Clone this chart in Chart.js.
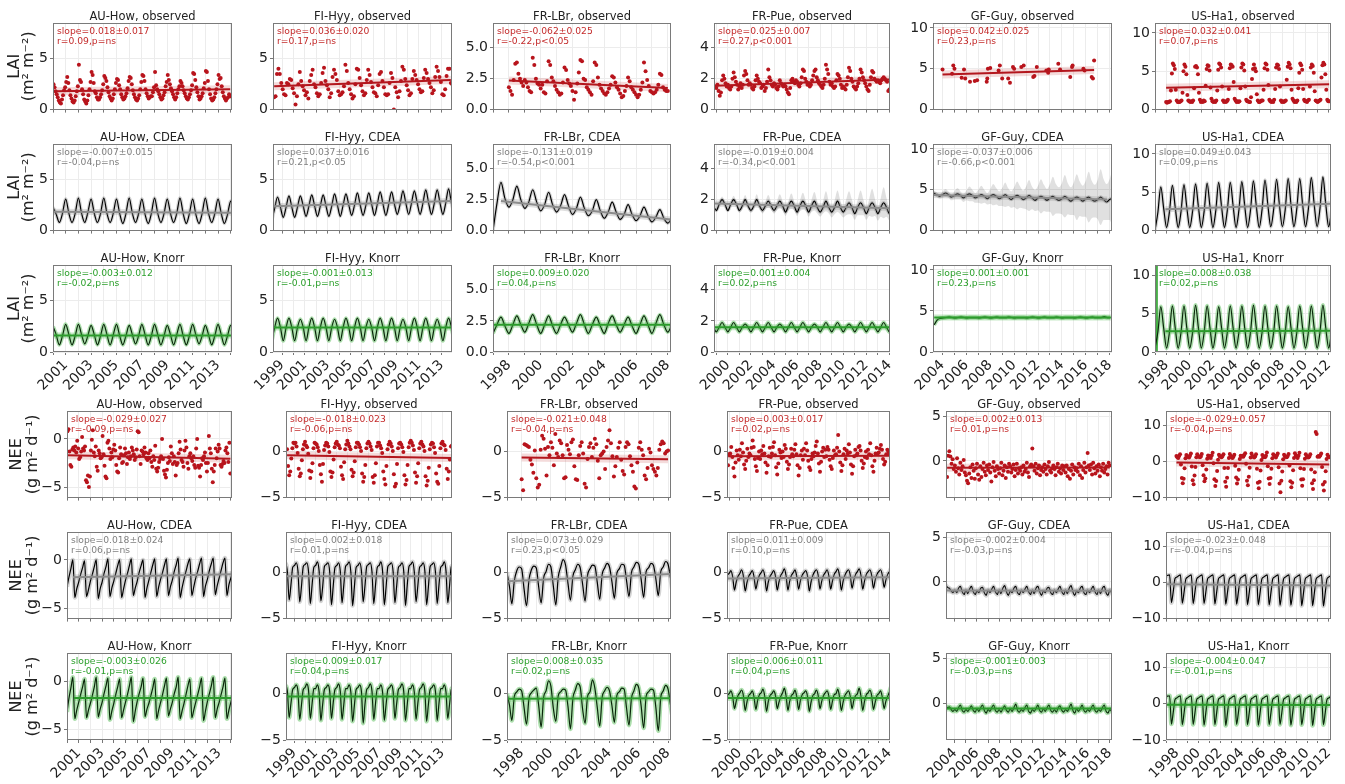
<!DOCTYPE html>
<html>
<head>
<meta charset="utf-8">
<script src="https://cdn.jsdelivr.net/npm/chart.js@4.4.0/dist/chart.umd.min.js"></script>
<style>
html, body { margin: 0; padding: 0; background: #fff; }
#fig { position: relative; width: 1345px; height: 784px; overflow: hidden; }
#fig canvas { position: absolute; }
</style>
</head>
<body>
<div id="fig"></div>
<script>
// ---- sites and axes ----
const sites = ['AU-How', 'FI-Hyy', 'FR-LBr', 'FR-Pue', 'GF-Guy', 'US-Ha1'];
const xMin = [2000.0, 1998.2, 1997.0, 1998.8, 2003.2, 1997.0];
const xMax = [2014.1, 2013.9, 2008.2, 2014.05, 2018.2, 2012.2];
const xLabelYears = [
  [2001, 2003, 2005, 2007, 2009, 2011, 2013],
  [1999, 2001, 2003, 2005, 2007, 2009, 2011, 2013],
  [1998, 2000, 2002, 2004, 2006, 2008],
  [2000, 2002, 2004, 2006, 2008, 2010, 2012, 2014],
  [2004, 2006, 2008, 2010, 2012, 2014, 2016, 2018],
  [1998, 2000, 2002, 2004, 2006, 2008, 2010, 2012]
];
const laiYMax = [8.5, 8.5, 7.0, 5.6, 10.6, 11.3];
const laiTicks = [[0, 5], [0, 5], [0, 2.5, 5], [0, 2, 4], [0, 5, 10], [0, 5, 10]];
const laiTickDecimals = [0, 0, 1, 0, 0, 0];
const neeYMin = [-6.1, -5, -5, -5, -4.1, -10];
const neeYMax = [2.9, 4.3, 4.4, 4.4, 5.6, 14];
const neeTicks = [[-5, 0], [-5, 0], [-5, 0], [-5, 0], [0, 5], [-10, 0, 10]];

// ---- LAI observed ----
const laiObsStart = [2000.04, 1998.3, 1998.0, 1998.9, null, 1997.96];
const laiObsStep = [1 / 12, 1 / 8, 0.1, 0.1, null, 1 / 12];
const laiObsAUHow = [
  2.5,2.2,1.8,1.5,1.2,0.9,0.7,0.6,1.0,1.4,1.9,2.2,
  2.7,3.2,2.6,1.9,1.4,1.1,0.8,0.7,0.9,1.3,1.8,2.3,
  4.4,2.9,2.7,2.0,1.5,1.0,0.8,0.6,0.9,1.4,2.0,2.7,
  3.7,3.4,2.6,1.8,1.6,1.2,1.0,1.0,1.2,1.5,1.9,2.5,
  3.3,3.1,2.8,2.2,1.7,1.3,1.1,0.9,1.1,1.5,2.0,2.6,
  3.0,2.9,2.4,2.0,1.5,1.2,1.0,1.1,1.3,1.6,2.1,2.8,
  3.2,3.1,2.5,1.9,1.5,1.2,1.0,0.9,1.1,1.4,2.0,2.7,
  3.4,3.3,2.8,2.0,1.6,1.3,1.1,1.2,1.3,1.3,1.7,2.2,
  3.7,2.4,2.0,1.8,1.5,1.2,1.0,1.1,1.4,1.7,2.3,2.7,
  3.4,2.9,2.5,2.1,1.8,1.5,1.2,1.0,1.2,1.6,2.0,2.3,
  2.8,2.6,2.3,1.9,1.6,1.3,1.1,1.0,1.2,1.5,1.9,2.4,
  3.6,3.5,2.9,2.2,1.7,1.3,1.0,1.1,1.3,1.6,2.1,2.6,
  3.8,3.7,2.8,2.0,1.5,1.1,0.9,1.0,1.2,1.6,2.0,2.5,
  3.4,3.0,3.1,2.3,1.7,1.3,1.1,0.9,1.1,1.2,1.5,1.3
];
const laiObsFIHyy = [
  1.2,1.3,3.5,4.0,3.5,2.6,2.0,1.5,
  1.4,2.6,2.5,3.0,2.9,2.1,1.6,0.5,
  1.3,2.5,3.7,2.8,2.3,1.9,1.4,1.7,
  1.1,2.8,3.4,3.9,2.5,2.2,1.6,1.3,
  1.5,2.6,3.6,4.1,2.8,2.4,2.0,1.2,
  1.6,3.2,3.9,3.5,2.9,1.8,1.4,1.5,
  1.7,2.3,4.4,3.8,2.6,2.0,1.5,1.1,
  1.3,2.5,4.0,3.9,3.1,2.4,1.8,1.4,
  1.6,2.9,3.9,3.4,2.7,2.2,1.7,1.6,
  1.3,2.4,3.5,3.7,2.8,2.2,1.5,1.4,
  1.5,2.6,3.6,3.1,0.0,2.2,1.7,1.2,
  1.8,2.8,4.2,3.9,3.0,2.4,1.9,1.4,
  1.6,3.0,3.8,3.4,2.9,2.5,2.0,1.7,
  1.8,3.1,3.9,3.6,3.0,2.6,2.2,1.6,
  1.9,3.2,4.2,3.8,3.2,2.7,1.5,1.4,
  2.0,3.3,4.0,4.0,2.6,2.5
];
const laiObsFRLBr = [
  1.8,1.5,1.2,2.4,3.7,3.8,2.9,2.5,2.2,1.9,
  2.4,2.2,1.8,1.5,1.4,4.2,3.6,2.5,2.1,2.0,
  1.7,2.0,1.4,1.3,2.3,3.9,3.6,2.6,2.3,1.9,
  1.6,1.4,1.2,1.3,2.2,3.4,3.2,2.4,2.1,1.9,
  1.5,0.8,1.4,2.1,3.0,4.0,3.9,2.5,2.4,1.8,
  1.6,1.4,1.2,2.3,3.8,3.6,2.6,2.0,1.7,1.5,
  1.3,1.2,1.4,1.7,2.0,2.7,2.6,2.2,1.8,1.6,
  1.3,1.0,1.1,1.5,1.9,2.6,2.3,1.8,1.6,1.4,
  1.2,1.0,1.2,1.6,2.2,3.8,3.1,2.4,1.9,1.5,
  1.4,1.3,1.4,1.6,2.0,2.9,2.8,1.8,1.6,1.5,
  1.5
];
const laiObsFRPue = [
  1.5,
  1.4,1.6,1.2,0.9,1.1,1.9,2.2,2.0,1.7,1.5,
  1.6,1.4,1.3,1.5,2.0,2.4,2.1,1.8,1.6,1.3,
  1.5,1.7,1.4,1.6,2.2,2.5,2.3,1.9,1.6,1.7,
  1.6,1.4,1.3,1.5,1.9,2.2,2.0,1.8,1.7,1.4,
  1.5,1.6,1.2,1.4,1.8,2.6,2.1,1.9,1.6,1.5,
  1.7,1.6,1.4,1.3,1.5,1.9,1.7,1.6,1.5,1.6,
  1.5,1.3,1.1,1.0,1.4,1.9,2.0,1.8,1.7,1.9,
  1.8,1.6,1.5,1.7,2.1,2.6,2.5,2.0,1.8,1.6,
  1.7,1.5,1.6,1.9,2.2,2.5,2.6,2.1,1.9,1.7,
  1.6,1.5,1.4,1.6,2.0,2.9,2.6,2.3,1.8,1.6,
  1.7,1.5,1.4,1.5,1.9,2.3,2.2,2.0,1.6,1.4,
  1.5,1.4,1.3,1.6,2.1,2.7,2.5,2.0,1.8,1.5,
  1.4,1.3,1.5,1.7,2.0,2.6,2.4,2.1,1.9,1.7,
  1.5,1.3,1.2,1.6,2.1,2.5,2.4,2.0,1.9,1.8,
  1.9,1.8,1.7,1.9,2.0,2.1,2.0,1.9,1.8,1.2,
  1.3
];
const laiObsGFGuyX = [2004.0,2004.8,2004.9,2005.0,2005.6,2005.8,2005.9,2006.3,2006.7,2006.9,2007.7,2007.75,2007.8,2008.0,2008.7,2008.8,2009.0,2009.5,2009.65,2009.9,2010.0,2010.6,2010.8,2011.6,2011.7,2011.9,2012.7,2012.85,2012.9,2013.7,2013.85,2014.7,2014.85,2014.9,2015.8,2015.9,2016.5,2016.6,2016.7];
const laiObsGFGuyY = [4.9,4.4,5.4,5.0,3.9,4.9,3.8,3.4,3.5,3.6,3.4,3.8,5.0,5.1,4.8,5.4,3.8,3.8,3.3,5.2,5.0,5.2,5.4,4.0,4.1,5.2,4.8,4.5,4.9,5.6,4.9,4.0,5.2,5.4,5.0,4.8,4.0,3.8,6.0];
const laiObsUSHa1 = [
  1.0,
  0.9,1.0,1.0,1.1,2.5,4.7,6.0,5.8,5.3,2.6,1.2,1.0,
  1.0,1.0,1.1,1.2,2.2,5.0,5.9,5.6,4.6,1.9,1.2,1.1,
  1.0,1.1,1.0,1.2,2.8,5.6,5.7,5.5,4.6,2.2,1.3,1.0,
  1.1,1.0,1.2,1.1,3.1,5.3,5.8,5.7,5.1,2.9,1.4,1.1,
  1.0,1.1,1.0,1.2,2.5,5.2,6.0,5.9,5.5,3.0,1.2,1.0,
  1.1,1.0,1.1,1.3,2.7,5.4,5.9,5.8,5.6,3.6,1.4,1.2,
  1.0,1.1,1.0,1.1,2.8,5.5,6.0,5.9,5.1,3.0,1.3,1.1,
  1.1,1.0,1.0,1.6,4.0,5.3,5.9,5.4,5.0,2.0,1.2,1.0,
  1.0,1.1,1.2,1.2,2.6,5.4,6.0,5.9,5.2,3.2,1.3,1.1,
  1.0,1.1,1.0,1.3,2.7,5.5,5.9,5.8,5.3,3.0,1.2,1.0,
  1.1,1.0,1.1,1.2,3.9,5.6,6.1,5.9,5.4,2.6,1.4,1.2,
  1.0,1.1,1.0,1.2,2.8,4.8,6.0,5.8,5.2,2.7,1.3,1.1,
  1.1,1.0,1.2,1.3,3.0,5.5,5.9,5.7,4.8,2.4,1.2,1.1,
  1.0,1.1,1.2,1.3,4.2,5.8,6.1,5.9,4.6,2.6,1.3,1.1,
  1.1
];

// ---- LAI models (quarterly) ----
const laiCdeaStart = [2000.0, 1998.1, 1997.0, 1998.75, 2003.25, 1997.0];
const laiKnorrStart = [2000.0, 1998.1, 1997.0, 1998.75, 2003.3, 1997.0];
const laiModelStep = 0.25;
const laiCdeaAUHow = [
  2.3,1.6,0.8,1.7, 3.1,1.7,0.8,1.7, 3.2,1.7,0.8,1.8, 3.1,1.7,0.8,1.7, 3.2,1.7,0.8,1.7,
  3.1,1.7,0.7,1.7, 3.2,1.7,0.8,1.7, 3.1,1.6,0.7,1.7, 3.2,1.7,0.8,1.7, 3.1,1.7,0.8,1.7,
  3.2,1.7,0.7,1.7, 3.1,1.6,0.7,1.7, 3.2,1.7,0.8,1.7, 3.1,1.7,0.7,1.6, 2.9,1.7
];
const laiCdeaFIHyy = [
  1.0,2.2,3.3,2.3, 1.3,2.3,3.4,2.3, 1.3,2.3,3.4,2.4, 1.4,2.4,3.5,2.4, 1.4,2.4,3.5,2.4,
  1.4,2.4,3.6,2.5, 1.4,2.5,3.6,2.5, 1.5,2.5,3.7,2.5, 1.5,2.5,3.7,2.6, 1.5,2.6,3.8,2.6,
  1.5,2.6,3.8,2.6, 1.6,2.6,3.9,2.7, 1.6,2.7,3.9,2.7, 1.6,2.7,4.0,2.7, 1.6,2.7,4.0,2.7,
  1.6,2.7,4.1,2.7, 1.6
];
const laiCdeaFRLBr = [
  0.0,2.2,3.9,2.6, 1.9,2.5,3.6,2.5, 1.8,2.3,3.3,2.3, 1.6,2.1,3.1,2.1, 1.5,2.0,2.9,2.0,
  1.3,1.8,2.7,1.8, 1.2,1.6,2.5,1.6, 1.0,1.5,2.3,1.5, 0.9,1.3,2.1,1.3, 0.8,1.2,1.9,1.2,
  0.7,1.1,1.7,1.0, 0.6,1.0
];
const laiCdeaFRPue = [
  1.6,
  1.3,1.7,2.0,1.7, 1.3,1.7,2.0,1.7, 1.3,1.6,2.0,1.6, 1.3,1.6,2.0,1.6, 1.3,1.6,1.9,1.6,
  1.3,1.6,1.9,1.6, 1.2,1.6,1.9,1.6, 1.2,1.6,1.9,1.6, 1.2,1.6,1.9,1.5, 1.2,1.5,1.9,1.5,
  1.2,1.5,1.9,1.5, 1.2,1.5,1.8,1.5, 1.1,1.5,1.8,1.5, 1.1,1.5,1.8,1.5, 1.1,1.5,1.8,1.5,
  1.1,1.4
];
const laiCdeaFRPueSpread = [
  0.15,
  0.1,0.15,0.2,0.15, 0.1,0.15,0.25,0.15, 0.15,0.2,0.3,0.2, 0.15,0.2,0.35,0.2, 0.2,0.25,0.4,0.25,
  0.2,0.3,0.45,0.3, 0.25,0.3,0.5,0.3, 0.25,0.35,0.55,0.35, 0.3,0.4,0.6,0.4, 0.3,0.4,0.65,0.4,
  0.35,0.45,0.7,0.45, 0.35,0.5,0.75,0.5, 0.4,0.5,0.8,0.5, 0.4,0.55,0.9,0.55, 0.45,0.6,1.0,0.6,
  0.45,0.6
];
const laiCdeaGFGuy = [
  4.6,4.4,4.2,
  4.4,4.6,4.4,4.1, 4.3,4.5,4.3,4.0, 4.3,4.5,4.3,4.0, 4.2,4.4,4.2,3.9, 4.2,4.4,4.2,3.9,
  4.1,4.4,4.1,3.8, 4.1,4.3,4.1,3.8, 4.0,4.3,4.0,3.7, 4.0,4.2,4.0,3.7, 4.0,4.2,3.9,3.7,
  3.9,4.2,3.9,3.6, 3.9,4.1,3.9,3.6, 3.9,4.1,3.8,3.6, 3.8,4.1,3.8,3.5,
  3.8,4.0
];
const laiCdeaGFGuySpread = [
  0.3,0.3,0.3,
  0.4,0.5,0.4,0.4, 0.5,0.7,0.5,0.5, 0.6,0.9,0.7,0.6, 0.8,1.1,0.8,0.7, 0.9,1.3,1.0,0.9,
  1.1,1.5,1.1,1.0, 1.2,1.7,1.3,1.1, 1.4,1.9,1.4,1.3, 1.5,2.1,1.6,1.4, 1.7,2.4,1.8,1.6,
  1.9,2.6,1.9,1.7, 2.0,2.8,2.1,1.9, 2.2,3.1,2.3,2.0, 2.4,3.4,2.5,2.2,
  2.5,3.6
];
const laiCdeaUSHa1 = [
  0.0,2.4,5.7,2.9, 0.4,2.5,5.9,3.0, 0.4,2.5,6.0,3.0, 0.4,2.6,6.1,3.1, 0.4,2.6,6.2,3.1,
  0.4,2.6,6.3,3.1, 0.4,2.7,6.3,3.2, 0.4,2.7,6.4,3.2, 0.4,2.7,6.5,3.2, 0.4,2.8,6.6,3.3,
  0.5,2.8,6.7,3.3, 0.5,2.8,6.8,3.3, 0.5,2.9,6.8,3.4, 0.5,2.9,6.9,3.4, 0.5,2.9,7.0,3.4,
  0.5,2.6
];
const laiKnorrAUHow = [
  2.5,1.7,0.7,1.6, 2.7,1.7,0.7,1.6, 2.7,1.7,0.8,1.6, 2.6,1.7,0.7,1.6, 2.7,1.7,0.7,1.7,
  2.7,1.6,0.7,1.6, 2.6,1.7,0.8,1.6, 2.7,1.7,0.7,1.6, 2.7,1.7,0.7,1.6, 2.6,1.7,0.7,1.7,
  2.7,1.6,0.7,1.6, 2.7,1.7,0.8,1.6, 2.6,1.7,0.7,1.6, 2.7,1.7,0.7,1.6, 2.6,1.7
];
const laiKnorrFIHyy = [
  1.1,2.4,3.3,2.4, 1.1,2.4,3.3,2.4, 1.1,2.4,3.2,2.4, 1.1,2.4,3.3,2.4, 1.1,2.4,3.3,2.4,
  1.1,2.4,3.2,2.4, 1.1,2.4,3.3,2.4, 1.1,2.4,3.3,2.4, 1.1,2.4,3.2,2.4, 1.1,2.4,3.3,2.4,
  1.1,2.4,3.3,2.4, 1.1,2.4,3.2,2.4, 1.1,2.4,3.3,2.4, 1.1,2.4,3.3,2.4, 1.1,2.4,3.2,2.4,
  1.1,2.4,3.3,2.4, 1.1
];
const laiKnorrFRLBr = [
  1.5,2.2,2.8,2.1, 1.5,2.2,2.9,2.2, 1.6,2.3,3.0,2.2, 1.5,2.2,2.9,2.1, 1.5,2.2,2.8,2.2,
  1.6,2.3,3.0,2.2, 1.5,2.2,2.8,2.1, 1.5,2.3,2.9,2.2, 1.6,2.2,2.8,2.1, 1.5,2.2,2.9,2.2,
  1.5,2.3,3.0,2.2, 1.6,2.2
];
const laiKnorrFRPue = [
  1.6,
  1.3,1.6,1.9,1.6, 1.3,1.6,1.9,1.6, 1.3,1.6,1.8,1.6, 1.3,1.6,1.9,1.6, 1.3,1.6,1.9,1.6,
  1.3,1.6,1.8,1.6, 1.3,1.6,1.9,1.6, 1.3,1.6,1.9,1.6, 1.3,1.6,1.8,1.6, 1.3,1.6,1.9,1.6,
  1.3,1.6,1.9,1.6, 1.3,1.6,1.8,1.6, 1.3,1.6,1.9,1.6, 1.3,1.6,1.9,1.6, 1.3,1.6,1.9,1.6,
  1.3,1.6
];
const laiKnorrGFGuy = [
  3.3,3.9,4.1,4.15,
  4.2,4.25,4.2,4.15, 4.2,4.25,4.2,4.15, 4.2,4.2,4.2,4.15, 4.2,4.25,4.2,4.15, 4.2,4.25,4.2,4.2,
  4.2,4.25,4.2,4.15, 4.2,4.2,4.2,4.15, 4.2,4.25,4.2,4.15, 4.2,4.25,4.2,4.2, 4.2,4.25,4.2,4.15,
  4.2,4.2,4.2,4.15, 4.2,4.25,4.2,4.15, 4.2,4.25,4.2,4.2, 4.2,4.3,4.2,4.2
];
const laiKnorrUSHa1 = [
  0.5,2.6,5.9,3.1, 0.5,2.6,6.0,3.1, 0.5,2.6,6.0,3.1, 0.5,2.6,6.1,3.1, 0.5,2.6,6.0,3.1,
  0.5,2.6,5.9,3.1, 0.5,2.6,6.0,3.1, 0.5,2.6,6.0,3.1, 0.5,2.6,6.1,3.1, 0.5,2.6,6.0,3.1,
  0.5,2.6,6.0,3.1, 0.5,2.6,5.9,3.1, 0.5,2.6,6.0,3.1, 0.5,2.6,6.0,3.1, 0.5,2.6,6.1,3.1,
  0.5,2.6
];
const laiKnorrUSHa1SpikeX = [1997.0, 1997.25];
const laiKnorrUSHa1SpikeTop = 12;

// ---- NEE observed ----
const neeObsStart = [2000.04, 1998.3, 1998.0, 1998.9, 2003.3, 1997.96];
const neeObsStep = [1 / 12, 0.1, 0.1, 0.1, 0.1, 1 / 12];
const neeObsAUHow = [
  0.8,1.0,-1.3,-2.7,-2.9,-1.1,-0.9,-1.2,-0.8,-1.4,-0.2,-1.0,
  -2.1,-1.9,-1.3,0.2,-1.0,-1.2,-0.8,-4.3,-4.5,-3.8,-5.0,-3.9,
  -1.2,-0.1,0.9,-1.4,-1.8,-0.8,-2.9,-3.3,-1.2,-1.5,-2.0,-1.9,
  0.3,-1.6,-2.8,-3.9,-4.1,-0.4,-0.2,-1.0,-2.1,-1.4,-1.9,-1.1,
  -0.6,-1.2,-2.7,-3.4,-3.5,-2.0,-0.9,-1.6,-2.5,-2.4,-1.7,-1.0,
  -1.5,-2.6,-1.9,-1.4,-2.1,-1.8,-0.9,-1.2,-1.6,-2.2,-1.9,-1.1,
  0.8,0.7,-1.8,-2.6,-1.2,-1.3,-1.6,-0.9,-1.4,-2.0,-2.2,-1.5,
  -2.0,-1.2,-2.4,-2.9,-1.8,-2.2,-0.7,-3.1,-3.4,-3.0,-2.4,-2.1,
  -1.8,0.0,-2.1,-3.3,-3.7,-4.0,-3.2,-2.5,-1.9,-2.3,-0.8,-1.5,
  -2.6,-1.8,-2.4,-3.8,-2.7,-2.5,-1.5,-0.3,-1.1,-2.2,-2.4,-2.9,
  -1.2,-0.2,-0.9,-2.5,-3.1,-1.8,-1.5,-2.0,-2.3,-1.8,-2.7,-3.0,
  -1.0,0.0,-2.8,-3.0,-3.9,-2.7,-2.0,-2.2,-1.8,-1.4,-2.5,-3.4,
  -2.5,0.3,-1.0,-1.5,-3.1,-4.5,-3.4,-2.7,-1.0,-2.0,-1.3,-0.6,
  -1.0,-2.7,-2.9,-2.6,-2.3,-2.5,-1.2,-0.9,-1.5,-2.4,-0.4,-3.6
];
const neeObsFIHyy = [
  0.2,-1.6,-2.6,-2.2,-0.8,0.3,0.9,
  0.8,0.9,0.5,-0.2,-1.9,-2.7,-2.4,-1.0,0.2,0.7,
  1.0,0.6,0.4,-0.3,-2.1,-2.9,-2.2,-1.3,0.3,0.9,
  0.8,0.7,0.4,0.0,-1.5,-2.5,-3.3,-1.4,0.1,0.6,
  0.9,0.8,0.5,-0.1,-2.2,-2.8,-2.3,-0.9,0.4,0.8,
  1.0,0.7,0.6,0.3,-1.7,-2.6,-3.0,-1.2,0.2,0.7,
  1.1,0.8,0.5,0.2,-2.0,-2.7,-2.3,-1.1,0.4,0.9,
  0.9,0.7,0.4,0.0,-2.4,-3.3,-2.8,-1.5,0.3,0.8,
  1.0,0.8,0.5,0.1,-2.8,-3.4,-2.6,-1.3,0.5,0.9,
  0.9,0.6,0.3,-0.2,-2.2,-3.0,-3.6,-1.6,0.2,0.7,
  1.0,0.8,0.5,0.0,-2.5,-3.8,-3.5,-1.4,0.3,0.8,
  0.9,0.7,0.4,-0.1,-2.6,-3.6,-3.1,-1.5,0.4,0.9,
  1.1,0.9,0.6,0.1,-2.3,-3.4,-2.7,-1.3,0.3,0.8,
  1.0,0.7,0.5,0.0,-2.7,-3.7,-3.2,-1.8,0.2,0.7,
  0.9,0.8,0.4,-0.2,-2.4,-3.3,-3.5,-1.6,0.3,0.8,
  1.0,0.7,0.6,0.1,-1.9,-3.0,-2.2,-0.9,0.5,0.6
];
const neeObsFRLBr = [
  -3.0,-4.2,0.8,0.7,0.6,0.5,-0.9,-1.4,-2.3,0.1,
  -2.9,-3.9,-3.6,0.2,1.7,1.4,0.3,-2.6,0.5,-0.4,
  1.0,0.4,-1.5,1.9,-0.2,-0.6,1.2,0.9,-0.4,-2.9,
  -2.8,0.7,0.2,-0.3,1.0,1.3,-1.6,-3.0,-3.1,-0.4,
  0.6,1.0,-0.2,-3.5,-3.9,-0.8,0.5,0.9,-0.6,0.4,
  1.4,0.8,-1.0,-2.9,-0.4,-0.2,0.0,-1.9,0.5,1.2,
  2.3,0.9,-0.5,-2.7,-1.6,-0.6,0.4,1.0,-0.9,-2.1,
  -2.5,0.5,1.0,0.8,-0.5,-1.5,-2.2,-3.8,-4.0,-1.2,
  0.4,1.0,0.2,-0.4,-2.6,-3.0,-1.8,0.3,-0.1,-1.5,
  -1.9,-2.2,-2.6,-1.8,0.2,0.8,1.1,0.9,-0.2,0.0,
  0.1
];
const neeObsFRPue = [
  -1.5,
  -0.3,-0.2,0.5,-0.6,-1.8,-2.7,-1.2,0.1,-0.4,-0.9,
  0.2,-0.5,0.9,-0.1,-1.4,-1.9,-1.0,0.3,-0.6,-0.2,
  -0.4,0.4,1.2,0.5,-0.8,-1.6,-2.1,-0.7,0.0,-0.8,
  0.1,-0.3,0.6,-0.2,-1.2,-2.3,-1.5,-0.5,0.4,-0.6,
  -0.2,0.5,1.0,-0.4,-1.7,-2.5,-1.3,0.2,-0.1,-0.7,
  0.0,-0.6,0.7,0.3,-1.1,-1.9,-1.4,-0.6,0.3,-0.3,
  -0.5,0.2,0.8,-0.3,-1.5,-2.6,-1.8,-0.4,0.1,-0.9,
  0.3,-0.4,0.9,0.1,-1.0,-1.7,-2.0,-0.8,-0.2,-0.5,
  -0.1,0.6,1.1,-0.2,-1.3,-2.2,-1.1,0.0,0.4,-0.6,
  0.2,-0.5,0.5,0.2,-0.9,-1.6,-1.9,-0.7,0.1,-0.4,
  -0.3,0.4,1.8,0.0,-1.2,-2.1,-1.5,-0.3,0.3,-0.8,
  0.1,-0.2,0.8,-0.1,-1.4,-2.4,-1.6,-0.5,0.2,-0.4,
  -0.2,0.5,0.6,0.1,-1.0,-1.8,-1.3,-0.6,0.0,-0.7,
  0.2,-0.3,0.9,-0.4,-1.6,-2.2,-1.0,-0.2,0.4,-0.2,
  -0.1,0.3,0.7,0.2,-0.8,-1.4,-1.1,-0.3,0.2,0.0,
  -0.2
];
const neeObsGFGuy = [
  -1.8,0.6,1.1,0.5,-0.3,0.2,-0.9,
  -0.5,-1.2,0.3,-0.8,-1.5,-0.2,-1.0,-0.6,0.1,-1.3,
  -1.6,-2.2,-2.5,-1.4,-0.7,-1.9,-0.4,-1.1,-2.0,-0.8,
  -0.3,-1.5,-2.1,-0.6,-1.8,-0.9,-0.2,-1.2,-1.6,-0.5,
  -1.0,-0.4,-1.3,-2.3,-0.7,-0.1,-1.1,-1.7,-0.6,-0.9,
  -1.4,-0.8,-0.2,-1.6,-1.1,-0.5,-1.9,-0.7,-1.2,-0.3,
  -0.6,-1.3,-0.9,-0.4,-1.7,-1.0,-0.3,-1.4,-0.8,-1.1,
  -0.7,-1.5,-0.5,-1.2,-0.9,-0.2,-1.3,-1.8,-0.6,-0.4,
  1.4,-0.6,-1.1,-0.3,-1.4,-0.8,-0.5,-1.6,-1.0,-0.7,
  -1.2,-0.4,-0.9,-1.5,-0.6,-0.1,-1.1,-1.3,-0.8,-0.5,
  -0.9,-1.6,-0.7,-0.3,-1.2,-0.8,-1.4,-0.5,-1.0,-0.6,
  -1.3,-0.5,-1.7,-0.9,-2.0,-1.1,-0.4,-1.5,-0.7,-1.0,
  -0.8,-1.2,-0.3,-1.6,-0.6,-1.9,-1.0,-0.2,-1.3,-0.7,
  0.9,-0.5,-1.0,-0.4,-1.5,-0.2,-0.8,-1.4,-0.6,-1.1,
  -0.4,-1.7,-0.7,-1.1,-0.3,-1.3,-0.9,-0.6,-1.5,-0.2,
  -0.5
];
const neeObsUSHa1 = [
  1.5,
  1.2,1.0,1.5,2.0,-0.8,-4.6,-6.0,-4.8,-1.9,0.9,1.8,1.3,
  1.4,1.1,1.6,2.2,-1.4,-5.2,-6.3,-3.9,-1.5,1.2,2.0,1.5,
  1.3,1.2,1.4,2.1,-1.0,-3.8,-5.5,-4.7,-2.2,0.8,1.7,1.1,
  1.5,1.0,1.7,2.4,-0.5,-4.9,-6.8,-5.4,-2.6,0.5,1.9,1.4,
  1.4,1.2,1.5,2.0,-1.8,-5.6,-7.0,-4.5,-1.8,1.0,2.1,1.6,
  1.2,1.0,1.3,1.9,-1.2,-4.4,-6.1,-5.0,-2.3,0.7,1.6,1.3,
  1.6,1.3,1.8,2.3,-0.6,-5.3,-6.6,-4.2,-1.7,1.1,2.2,1.5,
  1.3,1.1,1.4,2.0,-2.0,-5.9,-7.4,-5.6,-2.5,0.4,1.8,1.2,
  1.4,1.2,1.6,2.5,-1.3,-4.7,-6.2,-4.6,-2.0,0.9,2.0,1.6,
  1.5,1.1,1.7,2.2,-1.6,-6.1,-8.5,-5.3,-2.8,0.6,1.9,1.4,
  1.3,1.2,1.5,2.1,-1.1,-5.5,-7.1,-5.9,-2.4,1.0,2.3,1.7,
  1.4,1.0,1.6,2.4,-1.9,-5.0,-6.7,-4.9,-2.1,0.8,2.0,1.5,
  1.2,1.1,1.4,2.0,-2.2,-6.0,-7.6,-5.2,-3.0,8.2,7.6,1.3,
  1.5,1.3,1.7,2.2,-1.5,-6.4,-8.0,-5.7,-2.7,0.7,1.9,1.4,
  1.2
];

// ---- NEE models (every two months) ----
const neeModelStart = [2000.0, 1998.0, 1997.0, 1998 + 4 / 6, 2003 + 1 / 6, 1997.0];
const neeModelStep = 1 / 6;
const neeCdeaAUHow = [
  -2.8,-1.8,-0.9,0.0,-3.9,-3.0, -2.3,-1.5,-0.8,-0.1,-3.8,-3.1, -2.2,-1.5,-0.7,0.0,-4.0,-3.0,
  -2.3,-1.4,-0.7,0.1,-3.8,-2.9, -2.2,-1.4,-0.6,0.0,-3.9,-3.0, -2.1,-1.4,-0.6,0.1,-3.7,-2.9,
  -2.2,-1.3,-0.6,0.0,-3.9,-2.9, -2.1,-1.3,-0.5,0.1,-3.8,-2.8, -2.0,-1.3,-0.5,0.1,-3.7,-2.8,
  -2.1,-1.2,-0.5,0.2,-3.9,-2.9, -2.0,-1.2,-0.4,0.1,-3.7,-2.8, -1.9,-1.2,-0.4,0.2,-3.8,-2.7,
  -2.0,-1.1,-0.4,0.2,-3.6,-2.7, -1.9,-1.1,-0.3,0.2,-3.7,-2.6, -1.9,-1.2
];
const neeCdeaFIHyy = [
  0.6,0.9,0.0,-3.0,-1.4,0.5, 0.7,1.0,0.1,-3.2,-1.5,0.6, 0.8,1.0,0.0,-3.4,-1.4,0.5,
  0.7,1.1,0.1,-3.1,-1.6,0.6, 0.8,1.0,0.0,-3.5,-1.5,0.5, 0.7,1.0,0.1,-3.3,-1.4,0.6,
  0.8,1.1,0.0,-3.6,-1.6,0.5, 0.7,1.0,0.1,-3.2,-1.5,0.6, 0.8,1.0,0.0,-3.4,-1.4,0.5,
  0.7,1.1,0.1,-3.5,-1.6,0.6, 0.8,1.0,0.0,-3.3,-1.5,0.5, 0.7,1.0,0.1,-3.6,-1.4,0.6,
  0.8,1.1,0.0,-3.2,-1.5,0.5, 0.7,1.0,0.1,-3.5,-1.6,0.6, 0.8,1.0,0.0,-3.4,-1.4,0.5,
  0.7,1.1,0.1,-3.3,-1.5,0.6, 0.7
];
const neeCdeaFRLBr = [
  0.0,-1.5,-3.4,-0.9,0.2,0.6, 0.4,-1.8,-3.6,-0.8,0.3,0.7, 0.5,-1.6,-3.3,-0.6,0.1,0.9,
  0.6,-1.5,-3.5,-0.5,0.6,1.4, 0.8,-1.2,-3.0,-0.4,0.3,0.9, 0.5,-1.3,-3.1,-0.3,0.4,0.8,
  0.7,-1.1,-2.9,-0.2,0.5,1.0, 0.6,-1.0,-2.8,-0.1,0.4,0.9, 0.8,-0.9,-2.6,0.0,0.6,1.1,
  0.9,-0.8,-2.7,0.1,0.5,1.0, 0.8,-0.7,-2.5,0.1,0.6,1.2, 0.9,-0.6,-2.4
];
const neeCdeaFRPue = [
  -0.9,-0.3,
  -0.1,0.2,-0.5,-1.9,-1.0,-0.4, -0.1,0.3,-0.4,-2.0,-1.1,-0.4, -0.1,0.2,-0.5,-1.8,-0.9,-0.3,
  0.0,0.3,-0.4,-2.0,-1.0,-0.4, -0.1,0.2,-0.4,-1.9,-1.0,-0.3, 0.0,0.4,-0.4,-1.9,-0.9,-0.3,
  0.0,0.3,-0.5,-1.8,-0.9,-0.3, 0.0,0.2,-0.4,-2.0,-1.0,-0.3, 0.1,0.3,-0.3,-1.8,-0.9,-0.3,
  0.0,0.3,-0.4,-1.8,-0.9,-0.2, 0.1,0.4,-0.4,-1.9,-0.9,-0.3, 0.1,0.3,-0.3,-1.7,-0.8,-0.2,
  0.1,0.4,-0.3,-1.8,-0.9,-0.2, 0.1,0.3,-0.3,-1.7,-0.8,-0.2, 0.1,0.3,-0.3,-1.6,-0.8,-0.2,
  0.1,0.5
];
const neeCdeaGFGuy = [
  -0.3,-0.6,-0.7,-1.0,-1.2,
  -0.9,-1.2,-0.7,-0.5,-1.1,-1.4, -0.9,-1.3,-0.8,-0.5,-1.1,-1.4, -1.0,-1.2,-0.7,-0.6,-1.2,-1.5,
  -0.9,-1.2,-0.8,-0.5,-1.1,-1.4, -0.9,-1.3,-0.7,-0.4,-1.1,-1.5, -1.0,-1.2,-0.7,-0.5,-1.2,-1.4,
  -0.9,-1.2,-0.8,-0.5,-1.1,-1.4, -0.9,-1.3,-0.7,-0.5,-1.1,-1.5, -1.0,-1.2,-0.7,-0.6,-1.2,-1.4,
  -0.9,-1.2,-0.8,-0.5,-1.1,-1.4, -0.9,-1.3,-0.7,-0.4,-1.1,-1.5, -1.0,-1.2,-0.7,-0.5,-1.2,-1.4,
  -0.9,-1.2,-0.8,-0.5,-1.1,-1.4, -0.9,-1.3,-0.7,-0.5,-1.2,-1.5,
  -0.9,-1.2,-0.8
];
const neeCdeaUSHa1 = [
  1.8,2.0,2.1,-5.6,-2.5,1.1, 1.5,1.9,2.1,-5.7,-2.6,1.0, 1.5,1.9,2.1,-5.8,-2.6,1.0,
  1.5,1.9,2.1,-5.8,-2.7,1.0, 1.5,1.9,2.1,-5.9,-2.7,1.0, 1.5,1.9,2.1,-6.0,-2.7,1.0,
  1.5,1.9,2.1,-6.0,-2.7,1.0, 1.5,1.9,2.1,-6.1,-2.8,1.0, 1.5,1.9,2.1,-6.1,-2.8,1.0,
  1.5,1.9,2.1,-6.2,-2.8,1.0, 1.5,1.9,2.1,-6.3,-2.8,1.0, 1.5,1.9,2.1,-6.3,-2.9,1.0,
  1.5,1.9,2.1,-6.4,-2.9,1.0, 1.5,1.9,2.1,-6.4,-2.9,1.0, 1.5,1.9,2.1,-6.5,-2.9,1.0,
  1.5,1.9
];
const neeKnorrAUHow = [
  -3.2,-1.8,-0.7,0.4,-3.9,-3.0, -2.2,-1.4,-0.6,0.2,-3.8,-3.0, -2.3,-1.5,-0.6,0.4,-3.7,-2.9,
  -2.2,-1.3,-0.5,0.3,-4.0,-3.1, -2.3,-1.4,-0.6,0.2,-3.8,-3.0, -2.2,-1.4,-0.5,0.4,-4.2,-3.1,
  -2.1,-1.3,-0.6,0.3,-3.7,-2.9, -2.3,-1.5,-0.7,0.2,-3.9,-3.0, -2.2,-1.4,-0.5,0.3,-3.6,-2.9,
  -2.2,-1.3,-0.6,0.4,-3.9,-3.1, -2.3,-1.4,-0.5,0.2,-3.8,-3.0, -2.2,-1.4,-0.6,0.3,-4.1,-3.1,
  -2.1,-1.3,-0.5,0.4,-3.8,-2.9, -2.2,-1.4,-0.6,0.3,-3.9,-3.0, -2.2,-1.5
];
const neeKnorrFIHyy = [
  0.5,0.8,0.2,-2.6,-1.1,0.4, 0.6,0.9,0.2,-2.8,-1.2,0.4, 0.6,1.0,0.3,-2.7,-1.1,0.5,
  0.5,0.9,0.1,-2.9,-1.2,0.4, 0.6,0.9,0.2,-2.7,-1.0,0.4, 0.6,1.0,0.2,-2.8,-1.2,0.5,
  0.5,0.9,0.1,-3.0,-1.3,0.4, 0.6,0.9,0.2,-3.2,-1.2,0.4, 0.6,1.0,0.2,-2.8,-1.1,0.5,
  0.5,0.9,0.1,-2.9,-1.2,0.4, 0.6,0.9,0.2,-2.7,-1.1,0.4, 0.6,1.0,0.2,-2.9,-1.2,0.5,
  0.5,0.9,0.1,-2.8,-1.1,0.4, 0.6,1.0,0.2,-3.0,-1.2,0.4, 0.6,0.9,0.2,-2.9,-1.1,0.5,
  0.5,0.9,0.1,-2.7,-1.2,0.4, 0.6
];
const neeKnorrFRLBr = [
  0.0,-1.2,-2.9,-0.3,0.2,0.5, 0.3,-1.5,-3.3,-0.5,0.1,0.4, 0.6,-1.3,-3.6,-0.4,0.3,1.4,
  0.8,-1.6,-3.0,-0.2,0.2,0.5, 0.4,-1.4,-3.8,-0.5,0.4,1.1, 0.7,-1.7,-3.2,-0.3,0.2,1.5,
  0.6,-1.5,-3.5,-0.4,0.3,0.7, 0.3,-1.3,-3.1,-0.2,0.2,0.6, 0.5,-1.6,-3.4,-0.5,0.3,1.0,
  0.6,-1.4,-3.7,-0.3,0.2,0.5, 0.4,-1.5,-4.0,-0.4,0.3,0.9, 0.5,-1.2,-2.8
];
const neeKnorrFRPue = [
  -0.8,-0.2,
  0.0,0.3,-0.3,-1.6,-0.8,-0.2, 0.1,0.4,-0.2,-1.8,-0.9,-0.2, 0.0,0.3,-0.4,-1.7,-0.7,-0.1,
  0.1,0.5,-0.3,-1.9,-0.8,-0.2, 0.0,0.3,-0.2,-1.6,-0.9,-0.3, 0.1,0.6,-0.3,-1.8,-0.8,-0.2,
  0.0,0.4,-0.4,-1.7,-0.7,-0.1, 0.1,0.3,-0.3,-1.9,-0.9,-0.2, 0.0,0.4,-0.2,-1.6,-0.8,-0.2,
  0.1,0.3,-0.3,-1.7,-0.8,-0.1, 0.0,0.5,-0.4,-1.8,-0.9,-0.2, 0.1,0.3,-0.3,-1.6,-0.7,-0.2,
  0.0,0.6,-0.3,-1.8,-0.8,-0.1, 0.1,0.4,-0.2,-1.7,-0.9,-0.2, 0.0,0.3,-0.4,-1.6,-0.8,-0.3,
  0.2,0.8
];
const neeKnorrGFGuy = [
  -0.3,-0.5,-0.4,-0.7,-0.9,
  -0.7,-0.9,-0.5,-0.2,-0.8,-1.0, -0.7,-0.9,-0.6,-0.3,-0.8,-1.0, -0.6,-0.9,-0.5,-0.2,-0.8,-1.1,
  -0.7,-0.9,-0.5,-0.2,-0.8,-1.0, -0.7,-1.0,-0.6,-0.3,-0.8,-1.0, -0.6,-0.9,-0.5,-0.1,-0.8,-1.0,
  -0.7,-0.9,-0.5,-0.2,-0.9,-1.1, -0.7,-0.9,-0.6,-0.2,-0.8,-1.0, -0.6,-0.9,-0.5,-0.2,-0.8,-1.0,
  -0.7,-1.0,-0.5,-0.3,-0.8,-1.0, -0.7,-0.9,-0.5,-0.1,-0.8,-1.1, -0.6,-0.9,-0.6,-0.2,-0.8,-1.0,
  -0.7,-0.9,-0.5,-0.2,-0.8,-1.0, -0.7,-0.9,-0.5,-0.2,-0.9,-1.1,
  -0.7,-0.9,-0.5
];
const neeKnorrUSHa1 = [
  2.0,2.1,2.2,-5.6,-2.4,1.2, 1.6,2.0,2.2,-5.8,-2.5,1.2, 1.6,2.0,2.2,-5.7,-2.5,1.2,
  1.6,2.0,2.2,-5.9,-2.5,1.2, 1.6,2.0,2.2,-5.8,-2.5,1.2, 1.6,2.0,2.2,-6.0,-2.5,1.2,
  1.6,2.0,2.2,-5.7,-2.5,1.2, 1.6,2.0,2.2,-5.8,-2.5,1.2, 1.6,2.0,2.2,-5.9,-2.5,1.2,
  1.6,2.0,2.2,-5.8,-2.5,1.2, 1.6,2.0,2.2,-5.7,-2.5,1.2, 1.6,2.0,2.2,-5.9,-2.5,1.2,
  1.6,2.0,2.2,-5.8,-2.5,1.2, 1.6,2.0,2.2,-6.0,-2.5,1.2, 1.6,2.0,2.2,-5.8,-2.5,1.2,
  1.6,2.0
];

// ---- regression lines [x0, y0, x1, y1] ----
const laiObsTrend = [[2000.04,1.8,2013.96,2.0],[1998.3,2.3,2013.8,2.9],[1998.0,2.35,2008.0,1.75],[1998.9,1.55,2014.0,1.95],[2004.0,4.3,2016.7,4.85],[1997.96,2.85,2012.04,3.3]];
const laiCdeaTrend = [[2000.0,1.85,2014.1,1.75],[1998.2,2.4,2013.9,2.9],[1997.5,2.4,2008.2,0.9],[1998.8,1.75,2014.05,1.45],[2003.2,4.35,2017.8,3.8],[1997.9,2.8,2012.2,3.5]];
const laiKnorrTrend = [[2000.0,1.6,2014.1,1.6],[1998.2,2.4,2013.9,2.4],[1997.0,2.2,2008.2,2.2],[1998.8,1.6,2014.05,1.6],[2003.3,4.2,2018.1,4.2],[1997.9,2.7,2012.2,2.75]];
const neeObsTrend = [[2000.04,-1.7,2013.96,-2.05],[1998.3,-0.45,2013.9,-0.75],[1998.0,-0.65,2008.0,-0.85],[1998.9,-0.5,2014.0,-0.45],[2003.3,-0.75,2018.0,-0.72],[1997.96,-0.3,2012.04,-0.8]];
const neeCdeaTrend = [[2000.5,-1.8,2014.1,-1.5],[1998.2,-0.45,2013.9,-0.45],[1997.0,-0.95,2008.2,-0.15],[1998.8,-0.65,2014.05,-0.5],[2003.2,-0.95,2018.2,-0.98],[1997.0,-0.45,2012.2,-0.8]];
const neeKnorrTrend = [[2000.6,-1.75,2014.1,-1.75],[1998.2,-0.35,2013.9,-0.35],[1997.0,-0.55,2008.2,-0.5],[1998.8,-0.45,2014.05,-0.45],[2003.2,-0.6,2018.2,-0.6],[1997.0,-0.3,2012.2,-0.35]];

// ---- statistics text ----
const laiObsStats = [['slope=0.018±0.017','r=0.09,p=ns'],['slope=0.036±0.020','r=0.17,p=ns'],['slope=-0.062±0.025','r=-0.22,p<0.05'],['slope=0.025±0.007','r=0.27,p<0.001'],['slope=0.042±0.025','r=0.23,p=ns'],['slope=0.032±0.041','r=0.07,p=ns']];
const laiCdeaStats = [['slope=-0.007±0.015','r=-0.04,p=ns'],['slope=0.037±0.016','r=0.21,p<0.05'],['slope=-0.131±0.019','r=-0.54,p<0.001'],['slope=-0.019±0.004','r=-0.34,p<0.001'],['slope=-0.037±0.006','r=-0.66,p<0.001'],['slope=0.049±0.043','r=0.09,p=ns']];
const laiKnorrStats = [['slope=-0.003±0.012','r=-0.02,p=ns'],['slope=-0.001±0.013','r=-0.01,p=ns'],['slope=0.009±0.020','r=0.04,p=ns'],['slope=0.001±0.004','r=0.02,p=ns'],['slope=0.001±0.001','r=0.23,p=ns'],['slope=0.008±0.038','r=0.02,p=ns']];
const neeObsStats = [['slope=-0.029±0.027','r=-0.09,p=ns'],['slope=-0.018±0.023','r=-0.06,p=ns'],['slope=-0.021±0.048','r=-0.04,p=ns'],['slope=0.003±0.017','r=0.02,p=ns'],['slope=0.002±0.013','r=0.01,p=ns'],['slope=-0.029±0.057','r=-0.04,p=ns']];
const neeCdeaStats = [['slope=0.018±0.024','r=0.06,p=ns'],['slope=0.002±0.018','r=0.01,p=ns'],['slope=0.073±0.029','r=0.23,p<0.05'],['slope=0.011±0.009','r=0.10,p=ns'],['slope=-0.002±0.004','r=-0.03,p=ns'],['slope=-0.023±0.048','r=-0.04,p=ns']];
const neeKnorrStats = [['slope=-0.003±0.026','r=-0.01,p=ns'],['slope=0.009±0.017','r=0.04,p=ns'],['slope=0.008±0.035','r=0.02,p=ns'],['slope=0.006±0.011','r=0.04,p=ns'],['slope=-0.001±0.003','r=-0.03,p=ns'],['slope=-0.004±0.047','r=-0.01,p=ns']];

const laiObsVals = [laiObsAUHow, laiObsFIHyy, laiObsFRLBr, laiObsFRPue, null, laiObsUSHa1];
const laiCdeaVals = [laiCdeaAUHow, laiCdeaFIHyy, laiCdeaFRLBr, laiCdeaFRPue, laiCdeaGFGuy, laiCdeaUSHa1];
const laiCdeaSpread = [null, null, null, laiCdeaFRPueSpread, laiCdeaGFGuySpread, null];
const laiKnorrVals = [laiKnorrAUHow, laiKnorrFIHyy, laiKnorrFRLBr, laiKnorrFRPue, laiKnorrGFGuy, laiKnorrUSHa1];
const neeObsVals = [neeObsAUHow, neeObsFIHyy, neeObsFRLBr, neeObsFRPue, neeObsGFGuy, neeObsUSHa1];
const neeCdeaVals = [neeCdeaAUHow, neeCdeaFIHyy, neeCdeaFRLBr, neeCdeaFRPue, neeCdeaGFGuy, neeCdeaUSHa1];
const neeKnorrVals = [neeKnorrAUHow, neeKnorrFIHyy, neeKnorrFRLBr, neeKnorrFRPue, neeKnorrGFGuy, neeKnorrUSHa1];

// ---- layout ----
const colLeftLai = [53, 273, 493, 714, 933, 1155];
const colLeftNee = [67, 286, 507, 727, 946, 1166];
const colRight = [232, 452, 671, 890, 1112, 1331];
const rowTop = [23, 144, 265, 411, 532, 653];
const BOX_H = 87;

const STY = {
  obs: { text: '#c42b2b', trend: '#b3161d', band: 'rgba(205,90,90,0.22)', dot: '#b8141c' },
  cdea: { text: '#808080', trend: '#8c8c8c', band: 'rgba(150,150,150,0.3)', line: '#000000', env: 'rgba(0,0,0,0.17)', fill: 'rgba(0,0,0,0.12)' },
  knorr: { text: '#2ca02c', trend: '#2b9b2b', band: 'rgba(70,180,70,0.3)', line: '#0a260a', env: 'rgba(40,170,40,0.38)' }
};

Chart.defaults.font.family = '"DejaVu Sans", sans-serif';
Chart.defaults.color = '#222';

const panelText = {
  id: 'panelText',
  afterDraw(chart, args, o) {
    const ctx = chart.ctx, a = chart.chartArea;
    ctx.save();
    ctx.strokeStyle = '#7a7a7a';
    ctx.lineWidth = 1;
    ctx.strokeRect(Math.round(a.left) + 0.5, Math.round(a.top) + 0.5, Math.round(a.right - a.left) - 1, Math.round(a.bottom - a.top) - 1);
    ctx.fillStyle = '#222';
    ctx.font = '11.5px "DejaVu Sans"';
    ctx.textAlign = 'center';
    ctx.textBaseline = 'alphabetic';
    ctx.fillText(o.title, (a.left + a.right) / 2, a.top - 3);
    ctx.font = '9.2px "DejaVu Sans"';
    ctx.fillStyle = o.color;
    ctx.textAlign = 'left';
    ctx.fillText(o.line1, a.left + 4, a.top + 11);
    ctx.fillText(o.line2, a.left + 4, a.top + 21);
    if (o.yl1) {
      const cy = (a.top + a.bottom) / 2;
      ctx.fillStyle = '#222';
      ctx.font = '16px "DejaVu Sans"';
      ctx.textAlign = 'center';
      ctx.textBaseline = 'middle';
      [[o.yl1, o.ylx1], [o.yl2, o.ylx2]].forEach(([t, x]) => {
        ctx.save();
        ctx.translate(x, cy);
        ctx.rotate(-Math.PI / 2);
        ctx.fillText(t, 0, 0);
        ctx.restore();
      });
    }
    ctx.restore();
  }
};
Chart.register(panelText);

const fig = document.getElementById('fig');

function pts(start, step, vals) { return vals.map((v, i) => ({ x: start + i * step, y: v })); }
function ptsXY(xs, ys) { return xs.map((x, i) => ({ x: x, y: ys[i] })); }
function shifted(start, step, vals, spread, sign) { return vals.map((v, i) => ({ x: start + i * step, y: v + sign * spread[i] })); }
function trendPts(t) { return [{ x: t[0], y: t[1] }, { x: t[2], y: t[3] }]; }

function obsSets(points, trend) {
  const st = STY.obs;
  return [
    { data: trendPts(trend), borderColor: st.trend, borderWidth: 2, pointRadius: 0 },
    { data: points, showLine: false, pointRadius: 2, pointBackgroundColor: st.dot, pointBorderWidth: 0 },
    { data: trendPts(trend), borderColor: st.band, borderWidth: 8, pointRadius: 0 }
  ];
}

function modelSets(points, trend, st, envW, upper, lower, extra) {
  const sets = [
    { data: trendPts(trend), borderColor: st.trend, borderWidth: 2, pointRadius: 0 },
    { data: trendPts(trend), borderColor: st.band, borderWidth: 6, pointRadius: 0 },
    { data: points, borderColor: st.line, borderWidth: 1.2, pointRadius: 0, cubicInterpolationMode: 'monotone' },
    { data: points, borderColor: st.env, borderWidth: envW, pointRadius: 0, cubicInterpolationMode: 'monotone', borderJoinStyle: 'round' }
  ];
  if (upper) {
    sets.push({ data: upper, borderWidth: 0, pointRadius: 0, fill: '+1', backgroundColor: st.fill, cubicInterpolationMode: 'monotone' });
    sets.push({ data: lower, borderWidth: 0, pointRadius: 0, cubicInterpolationMode: 'monotone' });
  }
  if (extra) sets.push(extra);
  return sets;
}

function makePanel(row, col, datasets, yMin, yMax, yTicks, yDec, title, color, stats) {
  const isLai = row < 3;
  const boxL = (isLai ? colLeftLai : colLeftNee)[col];
  const boxR = colRight[col];
  const padL = col === 0 ? boxL : 42;
  const padT = 20, padR = 14;
  const showX = row === 2 || row === 5;
  const padB = showX ? 52 : 10;
  const cv = document.createElement('canvas');
  cv.width = boxR - boxL + padL + padR;
  cv.height = BOX_H + padT + padB;
  cv.style.left = (boxL - padL) + 'px';
  cv.style.top = (rowTop[row] - padT) + 'px';
  fig.appendChild(cv);
  new Chart(cv, {
    type: 'line',
    data: { datasets: datasets },
    options: {
      responsive: false,
      animation: false,
      events: [],
      layout: { padding: { left: 0, top: padT, right: padR, bottom: 0 } },
      elements: { point: { radius: 0 }, line: { tension: 0 } },
      plugins: {
        legend: { display: false },
        tooltip: { enabled: false },
        panelText: {
          title: title, color: color, line1: stats[0], line2: stats[1],
          yl1: col === 0 ? (isLai ? 'LAI' : 'NEE') : '',
          yl2: col === 0 ? (isLai ? '(m² m⁻²)' : '(g m² d⁻¹)') : '',
          ylx1: isLai ? 15 : 17, ylx2: isLai ? 29 : 33
        }
      },
      scales: {
        x: {
          type: 'linear', bounds: 'data', min: xMin[col], max: xMax[col],
          border: { display: false },
          grid: { color: '#ececec', lineWidth: 1, drawTicks: true, tickLength: 3, tickColor: '#777' },
          ticks: {
            display: showX, autoSkip: false,
            minRotation: 45, maxRotation: 45, padding: 2, color: '#222', font: { size: 14 },
            callback: (v) => xLabelYears[col].includes(v) ? String(v) : ''
          },
          // one tick (and grid line) per calendar year
          afterBuildTicks: (s) => {
            const t = [];
            for (let y = Math.ceil(xMin[col]); y <= Math.floor(xMax[col]); y++) t.push({ value: y });
            s.ticks = t;
          },
          afterFit: (s) => { s.height = padB; }
        },
        y: {
          type: 'linear', bounds: 'data', min: yMin, max: yMax,
          border: { display: false },
          grid: { color: '#ececec', lineWidth: 1, drawTicks: true, tickLength: 3, tickColor: '#777' },
          ticks: {
            color: '#222', font: { size: 14 }, padding: 2,
            callback: (v) => (v < 0 ? '\u2212' : '') + Math.abs(v).toFixed(yDec)
          },
          afterBuildTicks: (s) => { s.ticks = yTicks.map((v) => ({ value: v })); },
          afterFit: (s) => { s.width = padL; }
        }
      }
    }
  });
}

for (let c = 0; c < 6; c++) {
  // LAI observed
  const lo = c === 4 ? ptsXY(laiObsGFGuyX, laiObsGFGuyY) : pts(laiObsStart[c], laiObsStep[c], laiObsVals[c]);
  makePanel(0, c, obsSets(lo, laiObsTrend[c]), 0, laiYMax[c], laiTicks[c], laiTickDecimals[c], sites[c] + ', observed', STY.obs.text, laiObsStats[c]);

  // LAI CDEA
  const sp = laiCdeaSpread[c];
  const up = sp ? shifted(laiCdeaStart[c], laiModelStep, laiCdeaVals[c], sp, 1) : null;
  const dn = sp ? shifted(laiCdeaStart[c], laiModelStep, laiCdeaVals[c], sp, -1) : null;
  makePanel(1, c, modelSets(pts(laiCdeaStart[c], laiModelStep, laiCdeaVals[c]), laiCdeaTrend[c], STY.cdea, 3.5, up, dn, null),
    0, laiYMax[c], laiTicks[c], laiTickDecimals[c], sites[c] + ', CDEA', STY.cdea.text, laiCdeaStats[c]);

  // LAI Knorr
  let spike = null;
  if (c === 5) {
    spike = { data: laiKnorrUSHa1SpikeX.map((x) => ({ x: x, y: laiKnorrUSHa1SpikeTop })), borderWidth: 0, pointRadius: 0, fill: 'origin', backgroundColor: 'rgba(40,160,40,0.85)' };
  }
  makePanel(2, c, modelSets(pts(laiKnorrStart[c], laiModelStep, laiKnorrVals[c]), laiKnorrTrend[c], STY.knorr, 4, null, null, spike),
    0, laiYMax[c], laiTicks[c], laiTickDecimals[c], sites[c] + ', Knorr', STY.knorr.text, laiKnorrStats[c]);

  // NEE observed
  makePanel(3, c, obsSets(pts(neeObsStart[c], neeObsStep[c], neeObsVals[c]), neeObsTrend[c]),
    neeYMin[c], neeYMax[c], neeTicks[c], 0, sites[c] + ', observed', STY.obs.text, neeObsStats[c]);

  // NEE CDEA
  makePanel(4, c, modelSets(pts(neeModelStart[c], neeModelStep, neeCdeaVals[c]), neeCdeaTrend[c], STY.cdea, 4.5, null, null, null),
    neeYMin[c], neeYMax[c], neeTicks[c], 0, sites[c] + ', CDEA', STY.cdea.text, neeCdeaStats[c]);

  // NEE Knorr
  makePanel(5, c, modelSets(pts(neeModelStart[c], neeModelStep, neeKnorrVals[c]), neeKnorrTrend[c], STY.knorr, 4.5, null, null, null),
    neeYMin[c], neeYMax[c], neeTicks[c], 0, sites[c] + ', Knorr', STY.knorr.text, neeKnorrStats[c]);
}
</script>
</body>
</html>
